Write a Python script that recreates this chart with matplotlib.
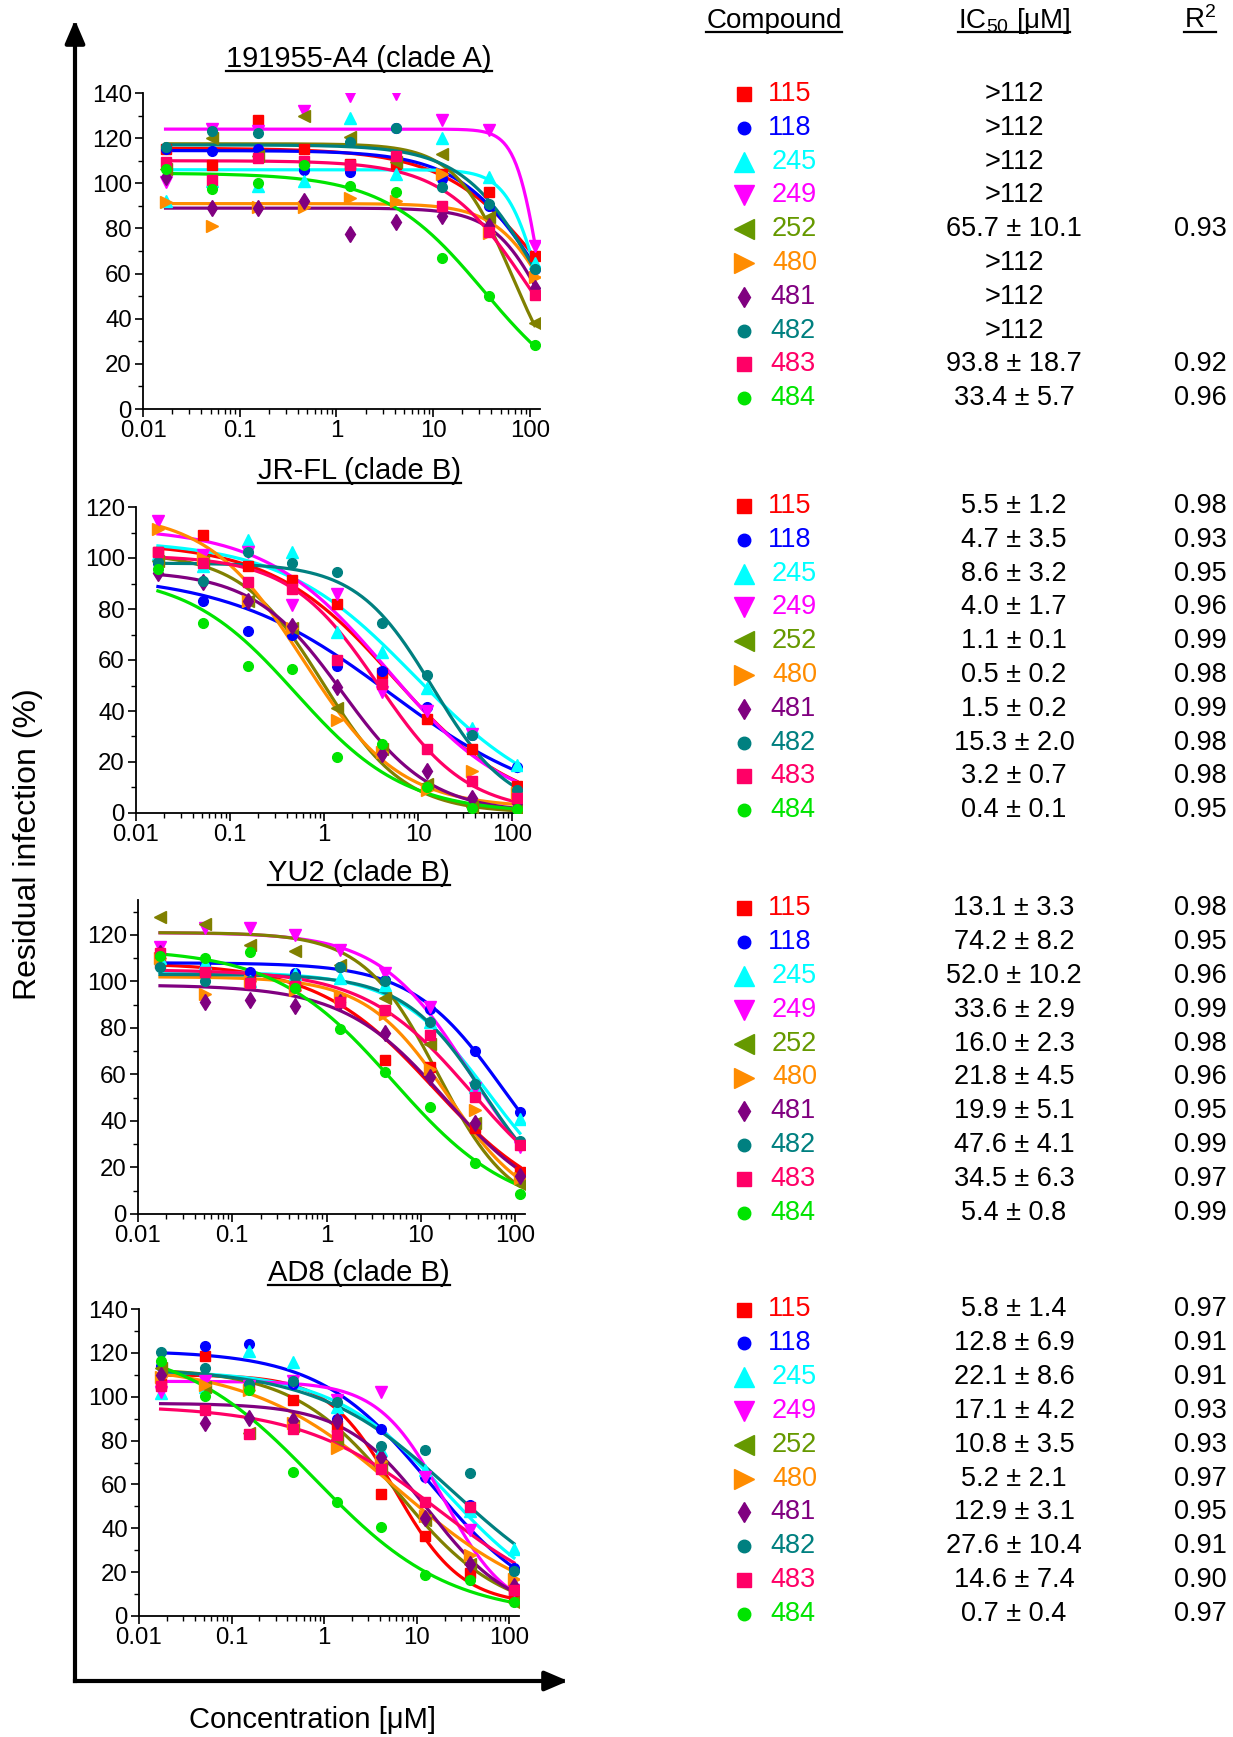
import numpy as np
import matplotlib
matplotlib.use('Agg')
import matplotlib.pyplot as plt
from matplotlib.lines import Line2D
from matplotlib.patches import FancyArrowPatch
from matplotlib.ticker import FixedLocator, FixedFormatter, MultipleLocator, LogLocator, NullFormatter

plt.rcParams['font.family'] = ['Liberation Sans', 'DejaVu Sans']
plt.rcParams['mathtext.fontset'] = 'custom'
plt.rcParams['mathtext.rm'] = 'Liberation Sans'
plt.rcParams['mathtext.it'] = 'Liberation Sans:italic'
plt.rcParams['mathtext.bf'] = 'Liberation Sans:bold'

W, H = 1233, 1737

compounds = ['115', '118', '245', '249', '252', '480', '481', '482', '483', '484']
colors = ['#FF0000', '#0000FF', '#00FFFF', '#FF00FF', '#808000',
          '#FF8C00', '#800080', '#008080', '#FF0066', '#00E400']
table_colors = ['#FF0000', '#0000FF', '#00FFFF', '#FF00FF', '#669900',
                '#FF8C00', '#800080', '#008080', '#FF0066', '#00E400']
markers = ['s', 'o', '^', 'v', '<', '>', 'd', 'o', 's', 'o']
plot_ms = [6.5, 7, 8.5, 8.5, 8.5, 8.5, 8.5, 7, 6.5, 7]
table_ms = [10, 9, 14, 14, 14, 14, 10.5, 9, 10, 9]
label_x = [768, 768, 772, 772, 772, 772, 770, 770, 770, 770]

strains = ['191955-A4 (clade A)', 'JR-FL (clade B)', 'YU2 (clade B)', 'AD8 (clade B)']

# concentrations (uM)
conc = [0.0171, 0.0512, 0.154, 0.461, 1.38, 4.15, 12.4, 37.3, 112]

# residual infection (%) per compound, one row per compound
resp_a4 = [
    [115, 108, 128, 115, 108.5, 108.5, 104, 96, 68],
    [115, 114.5, 115, 106, 105, 124.5, 102, 90, 62],
    [92, 101, 99, 101, 129, 104, 120, 103, 64.5],
    [100.5, 124, 123, 132, 138.5, 139.5, 128, 123.5, 72],
    [106.5, 120, 112, 130, 120.5, 109.5, 113, 85, 38],
    [91.5, 81, 89.5, 89.5, 93.5, 92, 104, 78, 58.5],
    [103, 89, 89, 92, 77.5, 83, 85.5, 81, 53.5],
    [116, 123, 122.5, 110, 118.5, 124.5, 98.5, 91, 62],
    [109.5, 101.5, 111, 110, 108, 112, 90, 78.5, 50.5],
    [106.5, 97.5, 100, 108, 99, 96, 67, 50, 28.5],
]
resp_jrfl = [
    [102.5, 109, 97, 91.5, 82, 55, 37, 25, 10.5],
    [98, 83, 71.5, 70, 57.5, 55.5, 41.5, 30.5, 18],
    [101.5, 97, 107, 102.5, 71, 63, 49, 33.5, 19],
    [114.5, 101, 102.5, 81.5, 86, 47.5, 40, 31, 7],
    [99, 99, 83, 72.5, 41, 25, 11.5, 2.5, 2],
    [111.5, 100, 83, 72.5, 36.5, 24, 9, 16.5, 8],
    [94, 90.5, 83, 73.5, 49.5, 23, 16.5, 6, 4],
    [98.5, 91, 102.5, 98, 94.5, 74.5, 54, 30.5, 9],
    [102.5, 98, 90.5, 88, 60, 50.5, 25, 12.5, 6],
    [95.5, 74.5, 57.5, 56.5, 22, 27, 10, 2, 1.5],
]
resp_yu2 = [
    [108, 105, 102, 98, 91.5, 66, 63, 37, 18],
    [112, 107, 104, 103.5, 106, 100.5, 88, 70, 44],
    [110, 108, 100, 103, 101.5, 98.5, 82.5, 54.5, 41],
    [115, 123, 123, 120, 113.5, 103.5, 89, 54, 29],
    [127.5, 124.5, 115.5, 113, 107, 93, 73, 39, 13],
    [110, 94.5, 100, 96.5, 93.5, 86, 62.5, 44.5, 15.5],
    [112, 91, 92, 89.5, 91, 78, 59, 39, 16.5],
    [106, 100, 100, 102, 106, 100, 82.5, 56, 31.5],
    [112, 104, 99.5, 98, 91, 87.5, 77, 50.5, 29.5],
    [111, 110, 112.5, 97, 79.5, 61, 46, 22, 8.5],
]
resp_ad8 = [
    [106, 118.5, 105, 98.5, 86, 55.5, 36.5, 19.5, 10],
    [114, 123, 124, 106, 90, 85.5, 63.5, 50.5, 22],
    [101.5, 104.5, 121, 116, 95.5, 75.5, 66.5, 48, 30.5],
    [102, 107, 105, 107, 98.5, 102, 63.5, 39, 12],
    [113, 104.5, 83.5, 86.5, 80.5, 68, 44, 23.5, 6.5],
    [109, 105.5, 103, 88, 76.5, 70.5, 45.5, 28, 17],
    [110, 88, 90.5, 89.5, 89, 72.5, 44.5, 23.5, 13.5],
    [120.5, 113, 106, 107, 97.5, 77.5, 75.5, 65, 20.5],
    [105, 94, 83, 85.5, 82.5, 67, 52, 49.5, 12],
    [116.5, 100.5, 103, 65.5, 52, 40.5, 18.5, 16.5, 6.5],
]

# fitted dose-response curves: (top, bottom, midpoint, hill)
fit_a4 = [(115.5, 0, 169, 0.82), (114.5, 0, 140, 1.0), (106, 0, 130, 2.5),
          (124, 0, 125, 3.5), (117.5, 0, 65.7, 1.46), (91, 0, 180, 1.5),
          (89, 0, 150, 1.6), (117, 0, 125, 1.1), (110, 0, 93.8, 1.0),
          (104.5, 0, 33.4, 0.84)]
fit_jrfl = [(106, 0, 5.5, 0.67), (94, 0, 5, 0.5), (107, 0, 9.3, 0.61),
            (112, 0, 4.77, 0.666), (102, 0, 0.97, 1.0), (118, 2, 0.6, 0.85),
            (95, 0, 1.55, 0.92), (98, 0, 14.4, 1.07), (101, 0, 3.74, 0.92),
            (94, 0, 0.5, 0.75)]
fit_yu2 = [(108, 0, 13.8, 0.7), (108, 0, 73.6, 0.9), (104, 0, 52, 0.9),
           (121, 0, 33.3, 0.91), (121, 0, 15, 1.1), (102, 0, 19.2, 1.0),
           (98.5, 0, 18.4, 0.8), (103, 0, 47, 1.02), (105, 0, 34.2, 0.77),
           (114, 0, 5.1, 0.69)]
fit_ad8 = [(110, 5, 5.8, 1.2), (121, 0, 13.9, 0.72), (112, 0, 21, 0.7),
           (107, 0, 19.4, 1.24), (113, 0, 6.16, 0.77), (115, 0, 6.4, 0.54),
           (97, 0, 13.2, 0.96), (113, 0, 25, 0.59), (96, 0, 17.6, 0.585),
           (125, 0, 0.79, 0.6)]

ic50_a4 = ['>112', '>112', '>112', '>112', '65.7 ± 10.1', '>112', '>112', '>112', '93.8 ± 18.7', '33.4 ± 5.7']
r2_a4 = ['', '', '', '', '0.93', '', '', '', '0.92', '0.96']
ic50_jrfl = ['5.5 ± 1.2', '4.7 ± 3.5', '8.6 ± 3.2', '4.0 ± 1.7', '1.1 ± 0.1',
             '0.5 ± 0.2', '1.5 ± 0.2', '15.3 ± 2.0', '3.2 ± 0.7', '0.4 ± 0.1']
r2_jrfl = ['0.98', '0.93', '0.95', '0.96', '0.99', '0.98', '0.99', '0.98', '0.98', '0.95']
ic50_yu2 = ['13.1 ± 3.3', '74.2 ± 8.2', '52.0 ± 10.2', '33.6 ± 2.9', '16.0 ± 2.3',
            '21.8 ± 4.5', '19.9 ± 5.1', '47.6 ± 4.1', '34.5 ± 6.3', '5.4 ± 0.8']
r2_yu2 = ['0.98', '0.95', '0.96', '0.99', '0.98', '0.96', '0.95', '0.99', '0.97', '0.99']
ic50_ad8 = ['5.8 ± 1.4', '12.8 ± 6.9', '22.1 ± 8.6', '17.1 ± 4.2', '10.8 ± 3.5',
            '5.2 ± 2.1', '12.9 ± 3.1', '27.6 ± 10.4', '14.6 ± 7.4', '0.7 ± 0.4']
r2_ad8 = ['0.97', '0.91', '0.91', '0.93', '0.93', '0.97', '0.95', '0.91', '0.90', '0.97']

x_ticks = [0.01, 0.1, 1, 10, 100]
x_labels = ['0.01', '0.1', '1', '10', '100']

panels = [
    (resp_a4, fit_a4, ic50_a4, r2_a4, (143, 93, 540, 409), 140, 140, 71, 94),
    (resp_jrfl, fit_jrfl, ic50_jrfl, r2_jrfl, (136, 507, 522, 813), 120, 120, 483, 506),
    (resp_yu2, fit_yu2, ic50_yu2, r2_yu2, (138, 900, 525, 1214), 135, 120, 885, 908.5),
    (resp_ad8, fit_ad8, ic50_ad8, r2_ad8, (139, 1309, 519, 1616), 140, 140, 1285, 1309.5),
]

fig = plt.figure(figsize=(W / 100, H / 100), dpi=100)


def fx(px):
    return px / W


def fy(py):
    return 1 - py / H


underlines = []

for i, (resp, fit, ic50, r2, box, ytop, ymaxtick, uy, row0) in enumerate(panels):
    x0, y0, x1, y1 = box
    ax = fig.add_axes([fx(x0), fy(y1), (x1 - x0) / W, (y1 - y0) / H])
    xs = np.logspace(np.log10(conc[0]), np.log10(conc[-1]), 300)
    for j in range(len(compounds)):
        ax.plot(conc, resp[j], ls='none', marker=markers[j], ms=plot_ms[j],
                color=colors[j], mec=colors[j], zorder=3)
        top, bot, mid, hill = fit[j]
        ax.plot(xs, bot + (top - bot) / (1 + (xs / mid) ** hill),
                color=colors[j], lw=2.3, zorder=2)
    ax.set_xscale('log')
    ax.set_xlim(0.01, 127)
    ax.set_ylim(0, ytop)
    ax.xaxis.set_major_locator(FixedLocator(x_ticks))
    ax.xaxis.set_major_formatter(FixedFormatter(x_labels))
    ax.xaxis.set_minor_locator(LogLocator(base=10, subs=np.arange(2, 10)))
    ax.xaxis.set_minor_formatter(NullFormatter())
    ax.set_yticks(np.arange(0, ymaxtick + 1, 20))
    ax.yaxis.set_minor_locator(MultipleLocator(10))
    for s in ['top', 'right']:
        ax.spines[s].set_visible(False)
    for s in ['left', 'bottom']:
        ax.spines[s].set_linewidth(1.3)
    ax.tick_params(which='major', direction='out', length=6, width=1.2,
                   labelsize=17.3, pad=2)
    ax.tick_params(which='minor', direction='out', length=3.5, width=1.0)

    # strain title
    t = fig.text(fx(359), fy(uy - 4), strains[i], ha='center', va='baseline', fontsize=21)
    underlines.append((t, uy))

    # table
    for j in range(len(compounds)):
        ry = row0 + j * 33.8
        fig.lines.append(Line2D([fx(744)], [fy(ry)], ls='none', marker=markers[j],
                                ms=table_ms[j], color=table_colors[j],
                                transform=fig.transFigure))
        fig.text(fx(label_x[j]), fy(ry), compounds[j], color=table_colors[j],
                 ha='left', va='center', fontsize=19.5)
        fig.text(fx(1014), fy(ry), ic50[j], ha='center', va='center', fontsize=19.5)
        if r2[j]:
            fig.text(fx(1200), fy(ry), r2[j], ha='center', va='center', fontsize=19.5)

# table headers
for label, cx in [('Compound', 774), ('IC$_{50}$ [μM]', 1014), ('R$^2$', 1200)]:
    t = fig.text(fx(cx), fy(28), label, ha='center', va='baseline', fontsize=20)
    underlines.append((t, 32))

# axis labels
fig.text(fx(28), fy(844), 'Residual infection (%)', rotation=90,
         ha='center', va='center', fontsize=23)
fig.text(fx(312), fy(1720), 'Concentration [μM]', ha='center', va='center', fontsize=21)

# big axis arrows
for end in [(75, 20), (568, 1681)]:
    arr = FancyArrowPatch((fx(75), fy(1681)), (fx(end[0]), fy(end[1])),
                          transform=fig.transFigure, arrowstyle='-|>,head_length=0.7,head_width=0.3',
                          mutation_scale=20, lw=3, color='k', shrinkA=0, shrinkB=0,
                          capstyle='projecting')
    fig.patches.append(arr)

# underline texts
renderer = fig.canvas.get_renderer()
for t, uy in underlines:
    bb = t.get_window_extent(renderer)
    fig.lines.append(Line2D([bb.x0 / W, bb.x1 / W], [fy(uy), fy(uy)], color='k', lw=1.6,
                            transform=fig.transFigure))

fig.savefig('out.png', dpi=100)
